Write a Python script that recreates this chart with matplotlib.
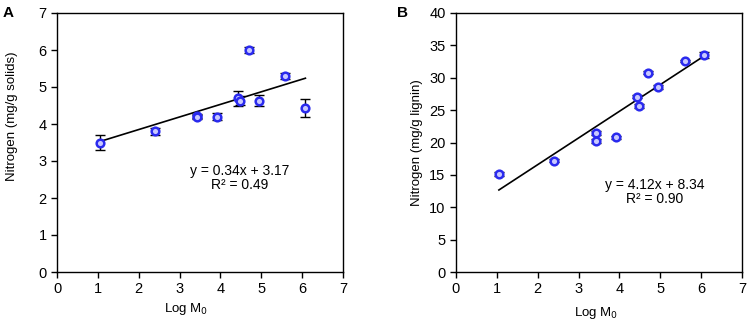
import matplotlib.pyplot as plt

plt.rcParams.update({
    "font.family": ["Liberation Sans", "DejaVu Sans"],
    "font.size": 9,
    "axes.linewidth": 1.0,
})

# panel A: nitrogen in solids
logm0_a = [1.05, 2.40, 3.42, 3.42, 3.92, 4.43, 4.47, 4.70, 4.95, 5.58, 6.08]
nitro_a = [3.50, 3.80, 4.22, 4.18, 4.20, 4.70, 4.63, 6.00, 4.63, 5.30, 4.43]
err_a = [0.20, 0.10, 0.06, 0.05, 0.10, 0.20, 0.12, 0.08, 0.15, 0.08, 0.25]
slope_a, icpt_a, r2_a = 0.34, 3.17, 0.49

# panel B: nitrogen in lignin
logm0_b = [1.05, 2.40, 3.42, 3.42, 3.92, 4.43, 4.47, 4.70, 4.95, 5.60, 6.08]
nitro_b = [15.2, 17.2, 21.5, 20.2, 20.8, 27.1, 25.7, 30.8, 28.6, 32.6, 33.5]
err_b = [0.3, 0.2, 0.3, 0.3, 0.2, 0.3, 0.3, 0.2, 0.3, 0.2, 0.4]
slope_b, icpt_b, r2_b = 4.12, 8.34, 0.90

BLUE = "#2a2aee"


def draw(ax, x, y, e, slope, icpt, r2, ymax, ystep, ylabel, txt_xy, lab_pos):
    ax.errorbar(x, y, yerr=e, fmt="none", ecolor="black", elinewidth=1.0,
                capsize=3.5, capthick=1.0, zorder=2)
    ax.plot(x, y, "o", ms=5.5, mfc="#c8c8ff", mec=BLUE, mew=1.8, zorder=3)
    x0, x1 = min(x), max(x)
    ax.plot([x0, x1], [slope * x0 + icpt, slope * x1 + icpt],
            color="black", lw=1.2, zorder=1)
    ax.set_xlim(0, 7)
    ax.set_ylim(0, ymax)
    ax.set_xticks(range(0, 8))
    ax.set_yticks(range(0, ymax + 1, ystep))
    ax.tick_params(direction="out", length=4, width=1, labelsize=10.5)
    ax.set_xlabel("Log M$_0$", fontsize=9.5)
    ax.set_ylabel(ylabel, fontsize=9.5)
    (xlx, xly), (ylx, yly) = lab_pos
    ax.xaxis.set_label_coords(xlx, xly)
    ax.yaxis.set_label_coords(ylx, yly)
    tx, ty, dy = txt_xy
    ax.text(tx, ty, f"y = {slope:.2f}x + {icpt:.2f}", ha="center", va="center",
            fontsize=10)
    ax.text(tx, ty - dy, f"R² = {r2:.2f}", ha="center", va="center", fontsize=10)


fig = plt.figure(figsize=(7.49, 3.22), dpi=100)
ax_a = fig.add_axes([57 / 749, 1 - 272 / 322, 286 / 749, 259 / 322])
ax_b = fig.add_axes([456 / 749, 1 - 272 / 322, 286 / 749, 259 / 322])

draw(ax_a, logm0_a, nitro_a, err_a, slope_a, icpt_a, r2_a, 7, 1,
     "Nitrogen (mg/g solids)", (4.48, 2.72, 0.37),
     ((0.45, -0.112), (-0.136, 0.60)))
draw(ax_b, logm0_b, nitro_b, err_b, slope_b, icpt_b, r2_b, 40, 5,
     "Nitrogen (mg/g lignin)", (4.87, 13.5, 2.3),
     ((0.49, -0.127), (-0.115, 0.50)))

fig.text(3 / 749, 1 - 13 / 322, "A", fontsize=11, fontweight="bold",
         ha="left", va="center")
fig.text(397 / 749, 1 - 13 / 322, "B", fontsize=11, fontweight="bold",
         ha="left", va="center")

fig.savefig("out.png", dpi=100)
